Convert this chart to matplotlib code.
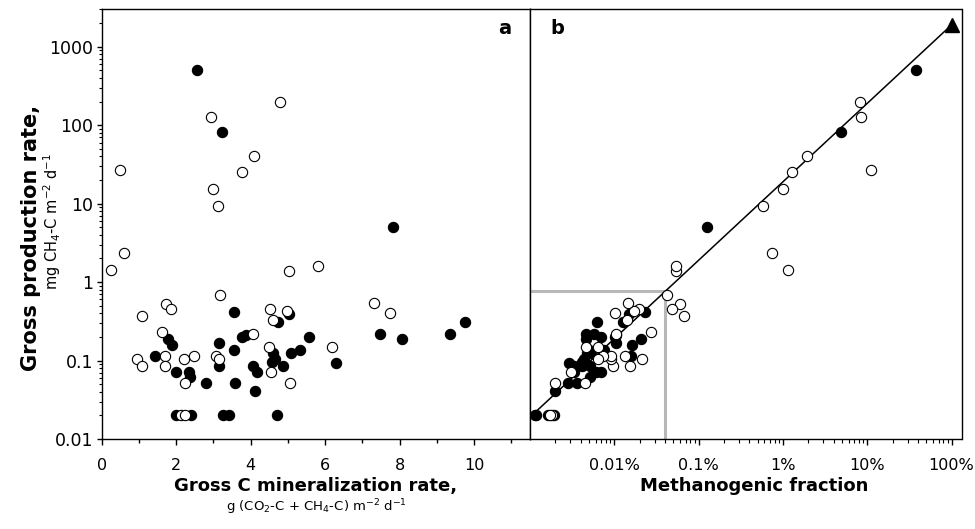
import numpy as np
import matplotlib
matplotlib.use("Agg")
import matplotlib.pyplot as plt
from matplotlib.ticker import LogLocator, FixedLocator, NullFormatter, NullLocator, MultipleLocator

# ---- data ----
# open circles: gross C mineralization (g C m-2 d-1) and gross CH4 production (mg CH4-C m-2 d-1)
open_mineralization = [4.80, 2.93, 4.10, 0.48, 3.76, 2.99, 3.12, 0.61, 0.24, 5.02, 5.81, 3.18,
                       4.51, 4.98, 4.61, 1.73, 1.86, 1.07, 7.30, 7.74, 1.63, 1.69, 0.96, 1.07,
                       1.69, 2.20, 2.47, 2.23, 3.08, 3.14, 4.06, 4.49, 4.54, 5.06, 6.19, 2.14, 2.25]
open_production = [200, 126, 40, 27, 25, 15.4, 9.3, 2.33, 1.43, 1.39, 1.61, 0.69,
                   0.456, 0.434, 0.33, 0.53, 0.456, 0.37, 0.54, 0.40, 0.23, 0.115, 0.104, 0.084,
                   0.084, 0.104, 0.115, 0.052, 0.115, 0.104, 0.22, 0.147, 0.072, 0.052, 0.147, 0.02, 0.02]

# filled circles
filled_mineralization = [2.57, 3.22, 7.82, 3.56, 5.04, 4.74, 9.75, 9.36, 7.48, 8.07, 1.77, 1.90,
                         1.43, 2.00, 2.34, 2.38, 2.79, 3.14, 3.14, 3.54, 3.59, 3.78, 3.88, 4.06,
                         4.17, 4.12, 4.61, 4.65, 4.58, 4.87, 5.08, 5.33, 5.57, 6.28, 2.00, 2.41,
                         3.27, 3.43, 4.71]
filled_production = [500, 81, 5.0, 0.42, 0.39, 0.31, 0.31, 0.22, 0.22, 0.19, 0.19, 0.16,
                     0.115, 0.072, 0.072, 0.0625, 0.052, 0.167, 0.084, 0.137, 0.052, 0.20, 0.21, 0.086,
                     0.072, 0.0415, 0.124, 0.104, 0.096, 0.084, 0.124, 0.137, 0.20, 0.093, 0.02, 0.02,
                     0.02, 0.02, 0.02]

# methanogenic fraction = CH4-C production relative to total C mineralization
# (unit conversion mg -> g, with the factor)
fraction_factor = 1.95

# panel b reference line (1:1 in log-log) and its end marker
line_fraction = [1e-5, 1.0]
line_ratio = 1900.0
triangle_fraction = [1.0]
triangle_production = [1900.0]

# grey threshold lines in panel b
threshold_fraction = 4e-4
threshold_production = 0.76

y_ticks = [0.01, 0.1, 1, 10, 100, 1000]
y_ticklabels = ["0.01", "0.1", "1", "10", "100", "1000"]
xa_ticks = [0, 2, 4, 6, 8, 10]
xb_ticks = [1e-4, 1e-3, 1e-2, 1e-1, 1.0]
xb_ticklabels = ["0.01%", "0.1%", "1%", "10%", "100%"]

open_mineralization = np.array(open_mineralization)
open_production = np.array(open_production)
filled_mineralization = np.array(filled_mineralization)
filled_production = np.array(filled_production)
open_fraction = fraction_factor * open_production / (open_mineralization * 1000.0)
filled_fraction = fraction_factor * filled_production / (filled_mineralization * 1000.0)

plt.rcParams['font.family'] = ['DejaVu Sans']
plt.rcParams['mathtext.fontset'] = 'dejavusans'

W, H = 975, 529
fig = plt.figure(figsize=(W / 100, H / 100), dpi=100)

def px(x0, y0, x1, y1):
    return [x0 / W, 1 - y1 / H, (x1 - x0) / W, (y1 - y0) / H]

axa = fig.add_axes(px(101.7, 9.3, 530, 439))
axb = fig.add_axes(px(530, 9.3, 961.5, 439))

ms = 7.4
mew = 0.8
xtick_fs = 11.5
ytick_fs = 12.5

for ax in (axa, axb):
    for s in ax.spines.values():
        s.set_linewidth(1.0)
        s.set_color('black')
    ax.set_yscale('log')
    ax.set_ylim(0.01, 3000)

# ---- panel a ----
axa.plot(filled_mineralization, filled_production, 'o', ms=ms, mfc='black', mec='black', mew=mew, zorder=3)
axa.plot(open_mineralization, open_production, 'o', ms=ms, mfc='white', mec='black', mew=mew, zorder=4)
axa.set_xlim(0, 11.5)
axa.xaxis.set_major_locator(FixedLocator(xa_ticks))
axa.xaxis.set_minor_locator(MultipleLocator(1))
axa.set_xticklabels([str(t) for t in xa_ticks])
axa.yaxis.set_major_locator(FixedLocator(y_ticks))
axa.set_yticklabels(y_ticklabels)
axa.yaxis.set_minor_locator(LogLocator(base=10, subs=np.arange(2, 10), numticks=20))
axa.yaxis.set_minor_formatter(NullFormatter())
axa.tick_params(axis='x', which='major', direction='out', length=4.0, width=1.0, pad=10, labelsize=xtick_fs)
axa.tick_params(axis='x', which='minor', direction='out', length=3.0, width=1.0)
axa.tick_params(axis='y', which='major', direction='out', length=3.5, width=1.0, pad=2.5, labelsize=ytick_fs)
axa.tick_params(axis='y', which='minor', direction='out', length=2.5, width=0.8)
axa.text(0.942, 0.955, 'a', transform=axa.transAxes, ha='center', va='center', fontsize=14, fontweight='bold')

# ---- panel b ----
axb.set_xscale('log')
axb.set_xlim(1e-5, 1.31)
axb.plot([1e-5, threshold_fraction, threshold_fraction],
         [threshold_production, threshold_production, 0.01],
         color='#b8b8b8', lw=2.2, zorder=1, solid_joinstyle='miter')
axb.plot(line_fraction, [f * line_ratio for f in line_fraction], color='black', lw=1.1, zorder=2)
axb.plot(filled_fraction, filled_production, 'o', ms=ms, mfc='black', mec='black', mew=mew, zorder=3)
axb.plot(open_fraction, open_production, 'o', ms=ms, mfc='white', mec='black', mew=mew, zorder=4)
axb.plot(triangle_fraction, triangle_production, '^', ms=10, color='black', zorder=5, clip_on=False)
axb.xaxis.set_major_locator(FixedLocator(xb_ticks))
axb.set_xticklabels(xb_ticklabels)
axb.xaxis.set_minor_locator(LogLocator(base=10, subs=np.arange(2, 10), numticks=20))
axb.xaxis.set_minor_formatter(NullFormatter())
axb.yaxis.set_major_locator(NullLocator())
axb.yaxis.set_minor_locator(NullLocator())
axb.tick_params(axis='x', which='major', direction='out', length=4.0, width=1.0, pad=10, labelsize=xtick_fs)
axb.tick_params(axis='x', which='minor', direction='out', length=3.0, width=0.8)
axb.text(0.063, 0.955, 'b', transform=axb.transAxes, ha='center', va='center', fontsize=14, fontweight='bold')

# ---- axis titles ----
fig.text(316 / W, 1 - 491 / H, 'Gross C mineralization rate,', ha='center', va='baseline',
         fontsize=13, fontweight='bold')
fig.text(316 / W, 1 - 511 / H, r'g (CO$_2$-C + CH$_4$-C) m$^{-2}$ d$^{-1}$', ha='center', va='baseline',
         fontsize=9.5)
fig.text(754 / W, 1 - 491 / H, 'Methanogenic fraction', ha='center', va='baseline',
         fontsize=13, fontweight='bold')
fig.text(31 / W, 1 - 238 / H, 'Gross production rate,', ha='center', va='center', rotation=90,
         fontsize=15, fontweight='bold')
fig.text(52 / W, 1 - 222 / H, r'mg CH$_4$-C m$^{-2}$ d$^{-1}$', ha='center', va='center', rotation=90,
         fontsize=10.5)

fig.savefig('out.png', dpi=100)
